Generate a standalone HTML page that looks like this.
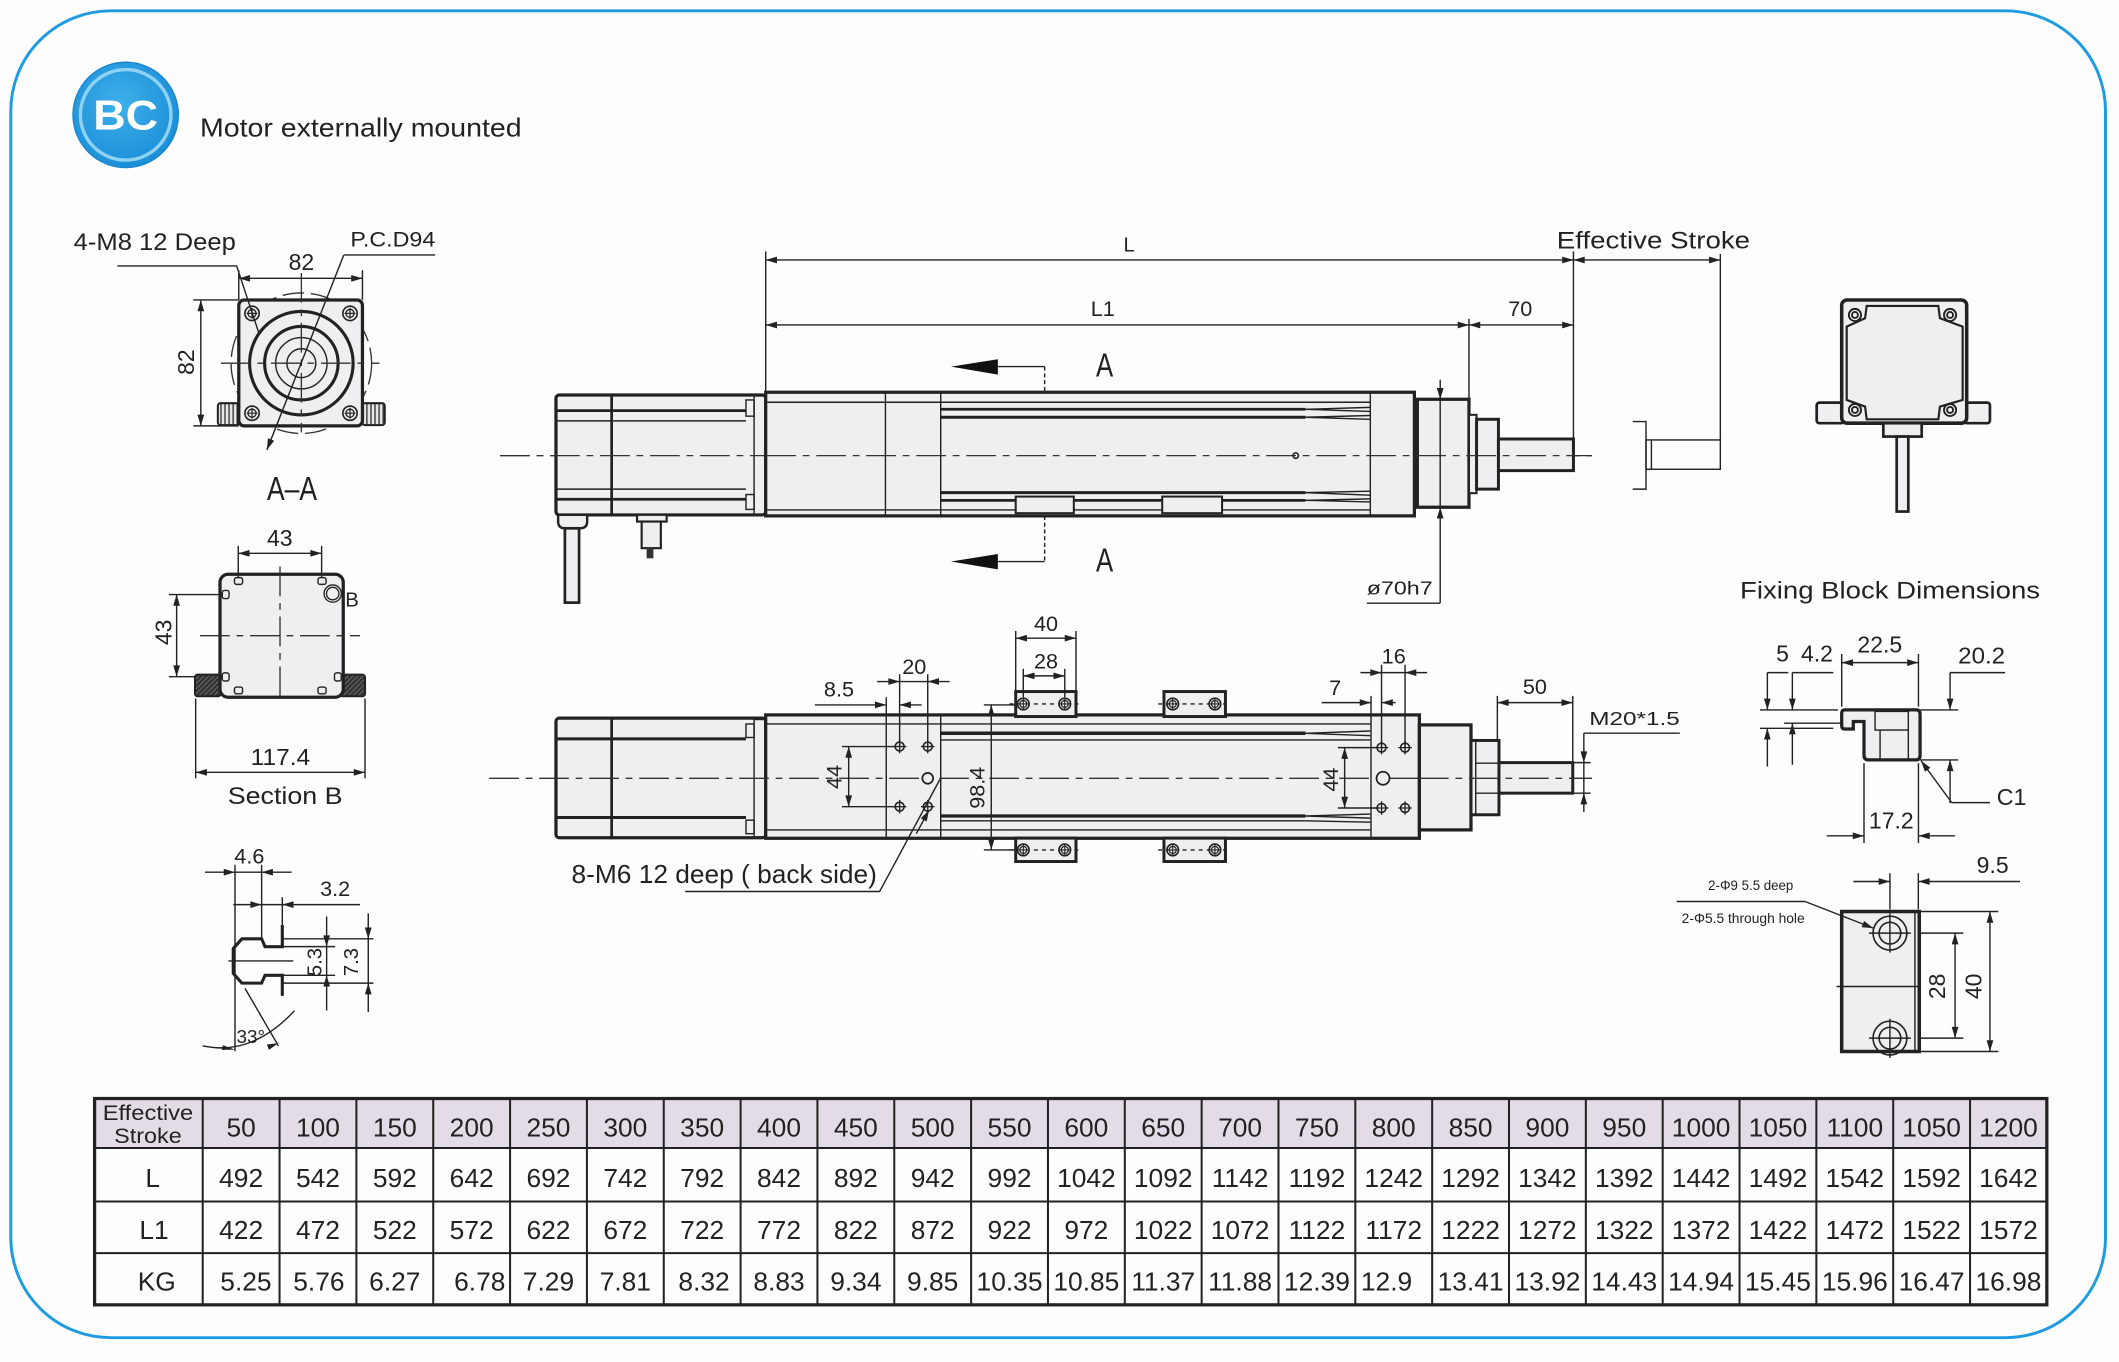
<!DOCTYPE html>
<html><head><meta charset="utf-8">
<style>
html,body{margin:0;padding:0;background:#fdfdfd;width:2119px;height:1362px;overflow:hidden}
svg{display:block}
text{font-family:"Liberation Sans",Arial,sans-serif;fill:#222}
.k{stroke:#222;stroke-width:2.3;fill:none}
.t{stroke:#222;stroke-width:1.05;fill:none}
.c{stroke:#333;stroke-width:1;fill:none;stroke-dasharray:22 5 5 5}
.f{fill:#efeff1}
</style></head><body>
<svg width="2119" height="1362" viewBox="0 0 1568 1008" preserveAspectRatio="none" xmlns="http://www.w3.org/2000/svg">
<defs>
<marker id="ae" viewBox="0 0 10 6" refX="10" refY="3" markerWidth="9" markerHeight="5" markerUnits="userSpaceOnUse" orient="auto"><path d="M0,0L10,3L0,6z" fill="#222"/></marker>
<marker id="as" viewBox="0 0 10 6" refX="10" refY="3" markerWidth="9" markerHeight="5" markerUnits="userSpaceOnUse" orient="auto-start-reverse"><path d="M0,0L10,3L0,6z" fill="#222"/></marker>
<pattern id="hv" width="3" height="4" patternUnits="userSpaceOnUse"><rect width="3" height="4" fill="#e6e6e8"/><line x1="1.5" y1="0" x2="1.5" y2="4" stroke="#333" stroke-width="1"/></pattern>
<pattern id="hd" width="2.6" height="2.6" patternUnits="userSpaceOnUse" patternTransform="rotate(45)"><rect width="2.6" height="2.6" fill="#333"/><line x1="0" y1="0" x2="0" y2="2.6" stroke="#9a9a9a" stroke-width="0.8"/></pattern>
<radialGradient id="bg" cx="0.45" cy="0.4" r="0.6"><stop offset="0" stop-color="#3fb0ea"/><stop offset="1" stop-color="#1b8fd8"/></radialGradient>
<g id="hp"><circle r="5.3" fill="#efeff1" stroke="#222" stroke-width="1.2"/><circle r="3" fill="none" stroke="#222" stroke-width="1"/><path d="M-4,0H4M0,-4V4" stroke="#222" stroke-width="0.9"/></g>
<g id="hs"><circle r="3.3" fill="none" stroke="#222" stroke-width="1.2"/><path d="M-5,0H5M0,-5V5" stroke="#222" stroke-width="1"/></g>
<g id="hb"><circle r="4.3" fill="#efeff1" stroke="#222" stroke-width="1.2"/><circle r="2.6" fill="none" stroke="#222" stroke-width="0.9"/><path d="M-4.3,0H4.3M0,-4.3V4.3" stroke="#222" stroke-width="0.8"/></g>
</defs>

<rect width="1568" height="1008" fill="#fdfdfd"/>
<rect x="8" y="8" width="1550" height="982" rx="74" fill="none" stroke="#1f9be0" stroke-width="2.2"/>

<!-- badge -->
<circle cx="93" cy="85" r="39" fill="url(#bg)" stroke="#1a86cc" stroke-width="1"/>
<circle cx="93" cy="85" r="33.5" fill="none" stroke="#8fd2f3" stroke-width="2.5"/>
<text x="93" y="96" text-anchor="middle" font-size="31" font-weight="bold" style="fill:#fff" textLength="48" lengthAdjust="spacingAndGlyphs">BC</text>
<text x="148" y="101" font-size="19" textLength="238" lengthAdjust="spacingAndGlyphs">Motor externally mounted</text>

<!-- ============ A-A view ============ -->
<circle cx="223" cy="268.8" r="52" fill="none" stroke="#333" stroke-width="1" stroke-dasharray="16 5"/>
<rect x="161.2" y="298.4" width="15.5" height="16.2" rx="2" fill="url(#hv)" stroke="#222" stroke-width="1.5"/>
<rect x="268.2" y="298.4" width="16.5" height="16.2" rx="2" fill="url(#hv)" stroke="#222" stroke-width="1.5"/>
<rect x="176.7" y="222" width="91.5" height="93.2" rx="4" fill="#efeff1" stroke="#222" stroke-width="2.4"/>
<circle cx="223" cy="268.8" r="38.3" class="k" stroke-width="2"/>
<circle cx="223" cy="268.8" r="27.2" class="k" stroke-width="2"/>
<circle cx="223" cy="268.8" r="19" class="t"/>
<circle cx="223" cy="268.8" r="10.7" class="t"/>
<line x1="163.5" y1="268.8" x2="280.8" y2="268.8" class="c"/>
<line x1="223" y1="202" x2="223" y2="320" class="c"/>
<use href="#hp" x="186.5" y="231.9"/><use href="#hp" x="259" y="231.9"/>
<use href="#hp" x="186.5" y="305.8"/><use href="#hp" x="259" y="305.8"/>
<line x1="176.7" y1="200" x2="176.7" y2="222" class="t"/>
<line x1="268.2" y1="200" x2="268.2" y2="222" class="t"/>
<line x1="176.7" y1="206" x2="268.2" y2="206" class="t" marker-start="url(#as)" marker-end="url(#ae)"/>
<text x="223" y="200" font-size="17" text-anchor="middle">82</text>
<line x1="143" y1="222" x2="176.7" y2="222" class="t"/>
<line x1="143" y1="315.2" x2="176.7" y2="315.2" class="t"/>
<line x1="148.6" y1="222" x2="148.6" y2="315.2" class="t" marker-start="url(#as)" marker-end="url(#ae)"/>
<text transform="translate(143.5,268) rotate(-90)" font-size="17" text-anchor="middle">82</text>
<text x="54.5" y="185" font-size="17.5" textLength="120" lengthAdjust="spacingAndGlyphs">4-M8 12 Deep</text>
<polyline points="86.9,196.8 175.1,196.8 191.6,246.6" class="t"/>
<text x="259.3" y="182.5" font-size="16" textLength="62.8" lengthAdjust="spacingAndGlyphs">P.C.D94</text>
<line x1="254.4" y1="188.7" x2="322" y2="188.7" class="t"/>
<line x1="254.4" y1="188.7" x2="197.5" y2="333" class="t" marker-end="url(#ae)"/>
<text x="197.6" y="370" font-size="25" textLength="37" lengthAdjust="spacingAndGlyphs">A–A</text>

<!-- ============ Section B ============ -->
<rect x="144.3" y="499.3" width="19" height="16" rx="2" fill="url(#hd)" stroke="#222" stroke-width="1.5"/>
<rect x="251.6" y="499.3" width="18.5" height="16" rx="2" fill="url(#hd)" stroke="#222" stroke-width="1.5"/>
<rect x="162.8" y="425" width="91.2" height="91" rx="6" fill="#efeff1" stroke="#222" stroke-width="2.4"/>
<g class="t" stroke-width="1.1">
<rect x="173.5" y="427.5" width="6" height="5" rx="1.5"/><rect x="235.3" y="427.5" width="6" height="5" rx="1.5"/>
<rect x="173.5" y="508.5" width="6" height="5" rx="1.5"/><rect x="235.3" y="508.5" width="6" height="5" rx="1.5"/>
<rect x="164.5" y="437" width="5" height="6" rx="1.5"/><rect x="164.5" y="498" width="5" height="6" rx="1.5"/>
<rect x="247.5" y="498" width="5" height="6" rx="1.5"/>
</g>
<line x1="148" y1="470.5" x2="266.4" y2="470.5" class="c"/>
<line x1="207.2" y1="419.3" x2="207.2" y2="516.7" class="c"/>
<line x1="176.3" y1="404" x2="176.3" y2="427" class="t"/>
<line x1="238" y1="404" x2="238" y2="427" class="t"/>
<line x1="176.3" y1="409.5" x2="238" y2="409.5" class="t" marker-start="url(#as)" marker-end="url(#ae)"/>
<text x="207" y="404" font-size="17" text-anchor="middle">43</text>
<line x1="125" y1="440" x2="162" y2="440" class="t"/>
<line x1="125" y1="500.8" x2="145" y2="500.8" class="t"/>
<line x1="130.7" y1="440" x2="130.7" y2="500.8" class="t" marker-start="url(#as)" marker-end="url(#ae)"/>
<text transform="translate(127,468) rotate(-90)" font-size="17" text-anchor="middle">43</text>
<circle cx="246.2" cy="439.3" r="6.4" fill="none" stroke="#222" stroke-width="1"/>
<circle cx="246.2" cy="439.3" r="4.6" fill="none" stroke="#222" stroke-width="1"/>
<text x="255.5" y="449" font-size="15">B</text>
<line x1="144.8" y1="517" x2="144.8" y2="576" class="t"/>
<line x1="270.1" y1="517" x2="270.1" y2="576" class="t"/>
<line x1="144.8" y1="571.6" x2="270.1" y2="571.6" class="t" marker-start="url(#as)" marker-end="url(#ae)"/>
<text x="207.5" y="566" font-size="17" text-anchor="middle" textLength="44" lengthAdjust="spacingAndGlyphs">117.4</text>
<text x="211" y="595" font-size="18" text-anchor="middle" textLength="85" lengthAdjust="spacingAndGlyphs">Section B</text>

<!-- ============ slot profile ============ -->
<path d="M208.9,684.6 L208.9,700.6 L196.1,700.6 L193.6,694.8 L179,694.8 L172.6,702 L172.6,720.4 L179,727.6 L193.6,727.6 L196.1,721.8 L208.9,721.8 L208.9,737" class="k" stroke-width="2.2"/>
<line x1="169" y1="711.2" x2="217" y2="711.2" class="t"/>
<line x1="173.9" y1="640" x2="173.9" y2="778" class="t"/>
<line x1="193.6" y1="640" x2="193.6" y2="694.8" class="t"/>
<line x1="208.9" y1="664" x2="208.9" y2="684.6" class="t"/>
<line x1="151.7" y1="645.5" x2="173.9" y2="645.5" class="t" marker-end="url(#ae)"/>
<line x1="215.8" y1="645.5" x2="193.6" y2="645.5" class="t" marker-end="url(#ae)"/>
<line x1="173.9" y1="645.5" x2="193.6" y2="645.5" class="t"/>
<text x="184.5" y="639" font-size="16" text-anchor="middle">4.6</text>
<line x1="172.6" y1="669.5" x2="193.6" y2="669.5" class="t" marker-end="url(#ae)"/>
<line x1="266.4" y1="669.5" x2="208.9" y2="669.5" class="t" marker-end="url(#ae)"/>
<line x1="193.6" y1="669.5" x2="208.9" y2="669.5" class="t"/>
<text x="248" y="663" font-size="16" text-anchor="middle">3.2</text>
<line x1="208.9" y1="700.6" x2="248" y2="700.6" class="t"/>
<line x1="208.9" y1="721.8" x2="248" y2="721.8" class="t"/>
<line x1="241.7" y1="678.3" x2="241.7" y2="700.6" class="t" marker-end="url(#ae)"/>
<line x1="241.7" y1="747.9" x2="241.7" y2="721.8" class="t" marker-end="url(#ae)"/>
<line x1="241.7" y1="700.6" x2="241.7" y2="721.8" class="t"/>
<text transform="translate(238,712) rotate(-90)" font-size="15" text-anchor="middle">5.3</text>
<line x1="208.9" y1="694.8" x2="276.3" y2="694.8" class="t"/>
<line x1="208.9" y1="727.6" x2="276.3" y2="727.6" class="t"/>
<line x1="272.5" y1="676" x2="272.5" y2="694.8" class="t" marker-end="url(#ae)"/>
<line x1="272.5" y1="749" x2="272.5" y2="727.6" class="t" marker-end="url(#ae)"/>
<line x1="272.5" y1="694.8" x2="272.5" y2="727.6" class="t"/>
<text transform="translate(265,712) rotate(-90)" font-size="15" text-anchor="middle">7.3</text>
<line x1="181.3" y1="731.5" x2="206" y2="774" class="t"/>
<path d="M150,774 Q186,782 218,748" class="t"/>
<path d="M164,777 L173.9,776.8 L165,773.6z" fill="#222"/>
<path d="M206,772 L199,777 L197.5,773z" fill="#222"/>
<text x="175" y="772" font-size="14">33°</text>

<!-- ============ main top view ============ -->
<line x1="370" y1="337.2" x2="1178" y2="337.2" class="c"/>
<rect x="411.4" y="292.3" width="155.2" height="88.8" rx="2.5" fill="#efeff1" stroke="#222" stroke-width="2.4"/>
<line x1="452.6" y1="292.3" x2="452.6" y2="381" stroke="#222" stroke-width="2"/>
<line x1="412" y1="303.9" x2="552" y2="303.9" stroke="#222" stroke-width="2"/>
<line x1="412" y1="311.5" x2="552" y2="311.5" class="t"/>
<line x1="412" y1="362" x2="552" y2="362" class="t"/>
<line x1="412" y1="369.5" x2="552" y2="369.5" stroke="#222" stroke-width="2"/>
<rect x="552" y="296" width="6" height="12" class="t"/>
<rect x="552" y="366" width="6" height="11" class="t"/>
<rect x="558" y="293" width="8.6" height="87.5" class="t"/>
<line x1="370" y1="337.2" x2="1178" y2="337.2" class="c"/>
<path d="M413,381 L434.5,381 L434.5,386 Q434.5,391 429,391 L418,391 Q413,391 413,386z" fill="#efeff1" stroke="#222" stroke-width="1.8"/>
<rect x="418" y="391" width="10.5" height="55" fill="#efeff1" stroke="#222" stroke-width="2"/>
<rect x="471.4" y="381" width="21.9" height="5" fill="#efeff1" stroke="#222" stroke-width="1.6"/>
<rect x="474.8" y="386" width="14.2" height="19.7" fill="#efeff1" stroke="#222" stroke-width="1.6"/>
<rect x="478.5" y="405.7" width="5" height="7.5" fill="#333"/>
<rect x="566.6" y="290.3" width="480" height="91.5" fill="#efeff1" stroke="#222" stroke-width="2.4"/>
<line x1="567" y1="297.7" x2="1014" y2="297.7" class="t"/>
<line x1="567" y1="377.4" x2="1014" y2="377.4" class="t"/>
<line x1="655.2" y1="290.3" x2="655.2" y2="381.8" class="t"/>
<line x1="696.1" y1="290.3" x2="696.1" y2="381.8" class="t"/>
<line x1="1014" y1="290.3" x2="1014" y2="381.8" class="t"/>
<line x1="696" y1="302.9" x2="966" y2="302.9" stroke="#222" stroke-width="2"/>
<line x1="696" y1="308.8" x2="966" y2="308.8" stroke="#222" stroke-width="2.2"/>
<line x1="696" y1="364.6" x2="966" y2="364.6" stroke="#222" stroke-width="2.2"/>
<line x1="696" y1="370.3" x2="966" y2="370.3" stroke="#222" stroke-width="2"/>
<g class="t" stroke-width="0.8">
<path d="M966,302.9 L1014,301.5 M966,302.9 L1014,304.5 M966,308.8 L1014,307.5 M966,308.8 L1014,310.3"/>
<path d="M966,364.6 L1014,363.5 M966,364.6 L1014,366.5 M966,370.3 L1014,369.2 M966,370.3 L1014,371.5"/>
</g>
<rect x="751.6" y="367.5" width="43" height="12.3" fill="#efeff1" stroke="#222" stroke-width="1.5"/>
<rect x="860" y="367.5" width="44.3" height="12.3" fill="#efeff1" stroke="#222" stroke-width="1.5"/>
<line x1="567" y1="337.2" x2="1046" y2="337.2" class="c"/>
<circle cx="958.8" cy="337.2" r="2" fill="none" stroke="#222" stroke-width="1.2"/>
<rect x="1048.8" y="295.5" width="38.2" height="79.9" fill="#efeff1" stroke="#222" stroke-width="2.4"/>
<rect x="1087" y="307" width="5.6" height="58" fill="#efeff1" stroke="#222" stroke-width="1.5"/>
<rect x="1092.6" y="310.3" width="16.2" height="51.7" fill="#efeff1" stroke="#222" stroke-width="2.2"/>
<rect x="1108.8" y="324.9" width="55.5" height="23.4" fill="#efeff1" stroke="#222" stroke-width="2.2"/>
<line x1="1048" y1="337.2" x2="1178" y2="337.2" class="c"/>
<path d="M1208.2,312 L1218,312 L1218,362 L1208.2,362" class="t" stroke-width="1.3"/>
<rect x="1218" y="325.6" width="55" height="21.7" class="t" stroke-width="1.5"/>
<line x1="1222" y1="325.6" x2="1222" y2="347.3" class="t"/>
<line x1="566.6" y1="186" x2="566.6" y2="290" class="t"/>
<line x1="1164.3" y1="186" x2="1164.3" y2="324.9" class="t"/>
<line x1="1273" y1="188" x2="1273" y2="325.6" class="t"/>
<line x1="1087" y1="236" x2="1087" y2="295.5" class="t"/>
<line x1="566.6" y1="192.4" x2="1164.3" y2="192.4" class="t" marker-start="url(#as)" marker-end="url(#ae)"/>
<line x1="1164.3" y1="192.4" x2="1273" y2="192.4" class="t" marker-start="url(#as)" marker-end="url(#ae)"/>
<text x="835.5" y="186" font-size="15" text-anchor="middle">L</text>
<text x="1152" y="184" font-size="17.5" textLength="143" lengthAdjust="spacingAndGlyphs">Effective Stroke</text>
<line x1="566.6" y1="240.5" x2="1087" y2="240.5" class="t" marker-start="url(#as)" marker-end="url(#ae)"/>
<line x1="1087" y1="240.5" x2="1164.3" y2="240.5" class="t" marker-start="url(#as)" marker-end="url(#ae)"/>
<text x="816" y="234" font-size="16" text-anchor="middle">L1</text>
<text x="1125" y="234" font-size="16" text-anchor="middle">70</text>
<line x1="1065.7" y1="281" x2="1065.7" y2="295.5" class="t" marker-end="url(#ae)"/>
<line x1="1065.7" y1="295.5" x2="1065.7" y2="375.4" class="t"/>
<line x1="1065.7" y1="446.4" x2="1065.7" y2="375.4" class="t" marker-end="url(#ae)"/>
<line x1="1011.4" y1="446.4" x2="1065.7" y2="446.4" class="t"/>
<text x="1011.4" y="440" font-size="14" textLength="48.7" lengthAdjust="spacingAndGlyphs">ø70h7</text>
<path d="M703.7,271.3 L738.4,265.9 L738.4,277.3z" fill="#111"/>
<polyline points="738.4,271.3 773,271.3" class="t"/>
<line x1="773" y1="271.3" x2="773" y2="290.3" class="t" stroke-dasharray="3 2"/>
<text x="811" y="278.7" font-size="25" textLength="12.7" lengthAdjust="spacingAndGlyphs">A</text>
<path d="M703.7,415.6 L738.4,410 L738.4,421.4z" fill="#111"/>
<polyline points="738.4,415.6 773,415.6" class="t"/>
<line x1="773" y1="381.8" x2="773" y2="415.6" class="t" stroke-dasharray="3 2"/>
<text x="811" y="423" font-size="25" textLength="12.7" lengthAdjust="spacingAndGlyphs">A</text>

<!-- ============ right end view ============ -->
<rect x="1344.3" y="298" width="20" height="15.2" rx="2" fill="#efeff1" stroke="#222" stroke-width="2"/>
<rect x="1453.5" y="298" width="19" height="15.2" rx="2" fill="#efeff1" stroke="#222" stroke-width="2"/>
<rect x="1362.8" y="222" width="92.5" height="91.2" rx="4" fill="#efeff1" stroke="#222" stroke-width="2.6"/>
<polygon points="1381.3,226.4 1434.3,226.4 1435.5,235.5 1452.3,241.7 1452.3,296 1435.5,300.9 1434.3,310.3 1381.3,310.3 1380.1,300.9 1366.5,296 1366.5,241.7 1380.1,235.5" fill="#efeff1" stroke="#222" stroke-width="1.6"/>
<g fill="none" stroke="#222" stroke-width="1.4">
<circle cx="1372.6" cy="233.1" r="4.5"/><circle cx="1443" cy="233.1" r="4.5"/><circle cx="1372.6" cy="303.4" r="4.5"/><circle cx="1443" cy="303.4" r="4.5"/>
<circle cx="1372.6" cy="233.1" r="2.2"/><circle cx="1443" cy="233.1" r="2.2"/><circle cx="1372.6" cy="303.4" r="2.2"/><circle cx="1443" cy="303.4" r="2.2"/>
</g>
<rect x="1393.6" y="313.2" width="28.4" height="9.9" fill="#efeff1" stroke="#222" stroke-width="2"/>
<rect x="1403.5" y="323.1" width="8.6" height="55.5" fill="#efeff1" stroke="#222" stroke-width="2"/>

<!-- ============ bottom view ============ -->
<rect x="411.4" y="531.5" width="155.2" height="88.5" rx="2.5" fill="#efeff1" stroke="#222" stroke-width="2.4"/>
<line x1="452.6" y1="531.5" x2="452.6" y2="620" stroke="#222" stroke-width="2"/>
<line x1="412" y1="546.8" x2="552" y2="546.8" stroke="#222" stroke-width="2.2"/>
<line x1="412" y1="605" x2="552" y2="605" stroke="#222" stroke-width="2.2"/>
<rect x="552" y="535.8" width="6" height="10" class="t"/>
<rect x="552" y="607" width="6" height="10" class="t"/>
<rect x="558" y="532.5" width="8.6" height="87" class="t"/>
<rect x="566.6" y="529.1" width="483.7" height="91.3" fill="#efeff1" stroke="#222" stroke-width="2.4"/>
<line x1="567" y1="535.8" x2="1014.5" y2="535.8" class="t"/>
<line x1="567" y1="614.2" x2="1014.5" y2="614.2" class="t"/>
<line x1="655.8" y1="529.1" x2="655.8" y2="620.4" class="t"/>
<line x1="696.1" y1="529.1" x2="696.1" y2="620.4" class="t"/>
<line x1="1014.5" y1="529.1" x2="1014.5" y2="620.4" class="t"/>
<line x1="696" y1="542.7" x2="966" y2="542.7" stroke="#222" stroke-width="2.6"/>
<line x1="696" y1="547.6" x2="966" y2="547.6" class="t"/>
<line x1="696" y1="603.9" x2="966" y2="603.9" stroke="#222" stroke-width="2.4"/>
<line x1="696" y1="607.5" x2="966" y2="607.5" class="t"/>
<g class="t" stroke-width="0.8">
<path d="M966,542.7 L1014,541 M966,542.7 L1014,544.5 M966,547.6 L1014,547.6"/>
<path d="M966,603.9 L1014,602.5 M966,603.9 L1014,605.5 M966,607.5 L1014,608.5"/>
</g>
<line x1="362" y1="576" x2="1178" y2="576" class="c"/>
<use href="#hs" x="665.7" y="552.5"/><use href="#hs" x="686.5" y="552.5"/>
<use href="#hs" x="665.7" y="597"/><use href="#hs" x="686.5" y="597"/>
<circle cx="686.5" cy="576" r="4" fill="#efeff1" stroke="#222" stroke-width="1.3"/>
<use href="#hs" x="1022.3" y="553.3"/><use href="#hs" x="1039.7" y="553.3"/>
<use href="#hs" x="1022.3" y="598"/><use href="#hs" x="1039.7" y="598"/>
<circle cx="1023.4" cy="576" r="4.8" fill="#efeff1" stroke="#222" stroke-width="1.3"/>
<rect x="1050.3" y="536.5" width="38.2" height="77.7" fill="#efeff1" stroke="#222" stroke-width="2.4"/>
<rect x="1088.5" y="548" width="20.7" height="55" fill="#efeff1" stroke="#222" stroke-width="2.2"/>
<line x1="1092" y1="548" x2="1092" y2="603" class="t"/>
<line x1="1092" y1="564.8" x2="1109" y2="564.8" class="t"/>
<line x1="1092" y1="587" x2="1109" y2="587" class="t"/>
<rect x="1109.2" y="564.4" width="54.6" height="22.6" fill="#efeff1" stroke="#222" stroke-width="2.2"/>
<line x1="1050" y1="576" x2="1178" y2="576" class="c"/>
<line x1="1163.8" y1="564.4" x2="1177" y2="564.4" class="t"/>
<line x1="1163.8" y1="587" x2="1177" y2="587" class="t"/>
<g fill="#efeff1" stroke="#222" stroke-width="2.2">
<rect x="751.6" y="511.8" width="44.6" height="18.5"/>
<rect x="861.3" y="511.8" width="45.5" height="18.5"/>
<rect x="751.6" y="620.3" width="44.6" height="17.3"/>
<rect x="861.3" y="620.3" width="45.5" height="17.3"/>
</g>
<line x1="747" y1="521" x2="800" y2="521" class="t" stroke-dasharray="3 3"/>
<line x1="857" y1="521" x2="911" y2="521" class="t" stroke-dasharray="3 3"/>
<line x1="747" y1="629" x2="800" y2="629" class="t" stroke-dasharray="3 3"/>
<line x1="857" y1="629" x2="911" y2="629" class="t" stroke-dasharray="3 3"/>
<use href="#hb" x="757.2" y="521"/><use href="#hb" x="787.9" y="521"/>
<use href="#hb" x="867.8" y="521"/><use href="#hb" x="899" y="521"/>
<use href="#hb" x="757.2" y="629"/><use href="#hb" x="787.9" y="629"/>
<use href="#hb" x="867.8" y="629"/><use href="#hb" x="899" y="629"/>
<line x1="655.8" y1="516" x2="655.8" y2="529" class="t"/>
<line x1="665.7" y1="499" x2="665.7" y2="552.5" class="t"/>
<line x1="686.5" y1="499" x2="686.5" y2="552.5" class="t"/>
<line x1="603" y1="521.7" x2="655.8" y2="521.7" class="t" marker-end="url(#ae)"/>
<line x1="682" y1="521.7" x2="665.7" y2="521.7" class="t" marker-end="url(#ae)"/>
<text x="620.8" y="515.5" font-size="16" text-anchor="middle">8.5</text>
<line x1="649" y1="504.4" x2="665.7" y2="504.4" class="t" marker-end="url(#ae)"/>
<line x1="702.7" y1="504.4" x2="686.5" y2="504.4" class="t" marker-end="url(#ae)"/>
<line x1="665.7" y1="504.4" x2="686.5" y2="504.4" class="t"/>
<text x="676.5" y="498.8" font-size="16" text-anchor="middle">20</text>
<line x1="623" y1="552.5" x2="662" y2="552.5" class="t"/>
<line x1="623" y1="597" x2="662" y2="597" class="t"/>
<line x1="628" y1="552.5" x2="628" y2="597" class="t" marker-start="url(#as)" marker-end="url(#ae)"/>
<text transform="translate(622.8,575) rotate(-90)" font-size="16" text-anchor="middle">44</text>
<line x1="728" y1="521.7" x2="751" y2="521.7" class="t"/>
<line x1="728" y1="629" x2="751" y2="629" class="t"/>
<line x1="733.5" y1="521.7" x2="733.5" y2="629" class="t" marker-start="url(#as)" marker-end="url(#ae)"/>
<text transform="translate(728.5,583) rotate(-90)" font-size="16" text-anchor="middle">98.4</text>
<line x1="751.6" y1="467" x2="751.6" y2="511.8" class="t"/>
<line x1="796.2" y1="467" x2="796.2" y2="511.8" class="t"/>
<line x1="751.6" y1="472.3" x2="796.2" y2="472.3" class="t" marker-start="url(#as)" marker-end="url(#ae)"/>
<text x="774" y="467" font-size="16" text-anchor="middle">40</text>
<line x1="757.2" y1="495" x2="757.2" y2="516" class="t"/>
<line x1="787.9" y1="495" x2="787.9" y2="516" class="t"/>
<line x1="757.2" y1="500.2" x2="787.9" y2="500.2" class="t" marker-start="url(#as)" marker-end="url(#ae)"/>
<text x="774" y="494.6" font-size="16" text-anchor="middle">28</text>
<line x1="1014.5" y1="515" x2="1014.5" y2="529" class="t"/>
<line x1="1022.3" y1="492" x2="1022.3" y2="553.3" class="t"/>
<line x1="1039.7" y1="492" x2="1039.7" y2="553.3" class="t"/>
<line x1="978" y1="520" x2="1014.5" y2="520" class="t" marker-end="url(#ae)"/>
<line x1="1032.7" y1="520" x2="1022.3" y2="520" class="t" marker-end="url(#ae)"/>
<text x="988" y="514.3" font-size="16" text-anchor="middle">7</text>
<line x1="1006.7" y1="497.8" x2="1022.3" y2="497.8" class="t" marker-end="url(#ae)"/>
<line x1="1056" y1="497.8" x2="1039.7" y2="497.8" class="t" marker-end="url(#ae)"/>
<line x1="1022.3" y1="497.8" x2="1039.7" y2="497.8" class="t"/>
<text x="1031.3" y="491" font-size="16" text-anchor="middle">16</text>
<line x1="990" y1="553.3" x2="1020" y2="553.3" class="t"/>
<line x1="990" y1="598" x2="1020" y2="598" class="t"/>
<line x1="995" y1="553.3" x2="995" y2="598" class="t" marker-start="url(#as)" marker-end="url(#ae)"/>
<text transform="translate(989.9,577) rotate(-90)" font-size="16" text-anchor="middle">44</text>
<line x1="1108" y1="515" x2="1108" y2="548" class="t"/>
<line x1="1163.8" y1="515" x2="1163.8" y2="564.4" class="t"/>
<line x1="1108" y1="520" x2="1163.8" y2="520" class="t" marker-start="url(#as)" marker-end="url(#ae)"/>
<text x="1135.8" y="513.5" font-size="16" text-anchor="middle">50</text>
<text x="1176" y="536.5" font-size="14" textLength="67" lengthAdjust="spacingAndGlyphs">M20*1.5</text>
<line x1="1172" y1="542.6" x2="1243" y2="542.6" class="t"/>
<line x1="1172" y1="542.6" x2="1172" y2="564.4" class="t" marker-end="url(#ae)"/>
<line x1="1172" y1="601" x2="1172" y2="587" class="t" marker-end="url(#ae)"/>
<line x1="1172" y1="564.4" x2="1172" y2="587" class="t"/>
<text x="422.9" y="653.6" font-size="19" textLength="226" lengthAdjust="spacingAndGlyphs">8-M6 12 deep ( back side)</text>
<polyline points="507,659.8 650.9,659.8 695.4,577" class="t"/>
<line x1="678" y1="617" x2="687.5" y2="599.5" class="t" marker-end="url(#ae)"/>

<!-- ============ Fixing block ============ -->
<text x="1287.6" y="443" font-size="18" textLength="222" lengthAdjust="spacingAndGlyphs">Fixing Block Dimensions</text>
<path d="M1365,525.4 L1418,525.4 Q1420.8,525.4 1420.8,528.5 L1420.8,559 Q1420.8,562.4 1417.5,562.4 L1383,562.4 Q1379.3,562.4 1379.3,559 L1379.3,534 L1371.4,534 L1371.4,539.5 L1365,539.5 Q1362.8,539.5 1362.8,537 L1362.8,528 Q1362.8,525.4 1365,525.4 Z" fill="#efeff1" stroke="#222" stroke-width="2.4"/>
<rect x="1387.5" y="526.5" width="24.6" height="13.8" class="t"/>
<line x1="1391.2" y1="540.3" x2="1391.2" y2="561.5" class="t"/>
<line x1="1412.1" y1="540.3" x2="1412.1" y2="561.5" class="t"/>
<line x1="1362.8" y1="484" x2="1362.8" y2="523" class="t"/>
<line x1="1419.6" y1="484" x2="1419.6" y2="523" class="t"/>
<line x1="1362.8" y1="490.4" x2="1419.6" y2="490.4" class="t" marker-start="url(#as)" marker-end="url(#ae)"/>
<text x="1391" y="483" font-size="17" text-anchor="middle">22.5</text>
<text x="1319" y="489.5" font-size="17" text-anchor="middle">5</text>
<text x="1344.5" y="489.5" font-size="17" text-anchor="middle">4.2</text>
<line x1="1307.8" y1="497.8" x2="1323.3" y2="497.8" class="t"/>
<line x1="1326.3" y1="497.8" x2="1356.6" y2="497.8" class="t"/>
<line x1="1307.8" y1="497.8" x2="1307.8" y2="525.4" class="t" marker-end="url(#ae)"/>
<line x1="1326.3" y1="497.8" x2="1326.3" y2="525.4" class="t" marker-end="url(#ae)"/>
<line x1="1302.3" y1="525.4" x2="1360" y2="525.4" class="t"/>
<line x1="1320.1" y1="535.2" x2="1362" y2="535.2" class="t"/>
<line x1="1302.3" y1="539" x2="1356.6" y2="539" class="t"/>
<line x1="1307.8" y1="567.3" x2="1307.8" y2="539" class="t" marker-end="url(#ae)"/>
<line x1="1326.3" y1="566" x2="1326.3" y2="535.2" class="t" marker-end="url(#ae)"/>
<text x="1449" y="490.9" font-size="17" textLength="34.7" lengthAdjust="spacingAndGlyphs">20.2</text>
<line x1="1443" y1="497.8" x2="1483.7" y2="497.8" class="t"/>
<line x1="1443" y1="497.8" x2="1443" y2="525.4" class="t" marker-end="url(#ae)"/>
<line x1="1421" y1="525.4" x2="1449" y2="525.4" class="t"/>
<line x1="1421" y1="562.4" x2="1449" y2="562.4" class="t"/>
<line x1="1443" y1="594.4" x2="1443" y2="562.4" class="t" marker-end="url(#ae)"/>
<polyline points="1444.2,594 1472.5,594" class="t"/>
<line x1="1444.2" y1="594" x2="1421.5" y2="563" class="t" marker-end="url(#ae)"/>
<text x="1477.5" y="595.7" font-size="17" textLength="22" lengthAdjust="spacingAndGlyphs">C1</text>
<line x1="1379.3" y1="564.8" x2="1379.3" y2="624" class="t"/>
<line x1="1419.6" y1="564.8" x2="1419.6" y2="624" class="t"/>
<line x1="1351.7" y1="618.6" x2="1379.3" y2="618.6" class="t" marker-end="url(#ae)"/>
<line x1="1446.6" y1="618.6" x2="1419.6" y2="618.6" class="t" marker-end="url(#ae)"/>
<text x="1399.5" y="613" font-size="17" text-anchor="middle">17.2</text>
<text x="1474.5" y="646.2" font-size="17" text-anchor="middle">9.5</text>
<line x1="1398.5" y1="646.2" x2="1398.5" y2="673" class="t"/>
<line x1="1419.5" y1="646.2" x2="1419.5" y2="673" class="t"/>
<line x1="1371.4" y1="652.4" x2="1398.5" y2="652.4" class="t" marker-end="url(#ae)"/>
<line x1="1494.7" y1="652.4" x2="1419.5" y2="652.4" class="t" marker-end="url(#ae)"/>
<rect x="1362.8" y="674.6" width="57.4" height="103.6" fill="#efeff1" stroke="#222" stroke-width="2.6"/>
<line x1="1417" y1="675" x2="1417" y2="778" class="t"/>
<line x1="1359" y1="730.1" x2="1420" y2="730.1" class="t"/>
<circle cx="1398.5" cy="690.6" r="12.5" fill="none" stroke="#222" stroke-width="1.2"/>
<circle cx="1398.5" cy="690.6" r="8" fill="none" stroke="#222" stroke-width="1.2"/>
<circle cx="1398.5" cy="768.3" r="12.5" fill="none" stroke="#222" stroke-width="1.2"/>
<circle cx="1398.5" cy="768.3" r="8" fill="none" stroke="#222" stroke-width="1.2"/>
<path d="M1383,690.6H1414M1398.5,676V705M1383,768.3H1414M1398.5,754V783" class="t"/>
<line x1="1420" y1="690.6" x2="1452.8" y2="690.6" class="t"/>
<line x1="1420" y1="768.3" x2="1452.8" y2="768.3" class="t"/>
<line x1="1446.7" y1="690.6" x2="1446.7" y2="768.3" class="t" marker-start="url(#as)" marker-end="url(#ae)"/>
<text transform="translate(1439.3,730) rotate(-90)" font-size="17" text-anchor="middle">28</text>
<line x1="1420" y1="674.6" x2="1478.7" y2="674.6" class="t"/>
<line x1="1420" y1="778.2" x2="1478.7" y2="778.2" class="t"/>
<line x1="1472.5" y1="674.6" x2="1472.5" y2="778.2" class="t" marker-start="url(#as)" marker-end="url(#ae)"/>
<text transform="translate(1466.4,730) rotate(-90)" font-size="17" text-anchor="middle">40</text>
<text x="1264" y="658.6" font-size="10" textLength="63" lengthAdjust="spacingAndGlyphs">2-Φ9 5.5 deep</text>
<text x="1244.4" y="683" font-size="10" textLength="91" lengthAdjust="spacingAndGlyphs">2-Φ5.5 through hole</text>
<polyline points="1240.7,667.2 1335.7,667.2" class="t"/>
<line x1="1335.7" y1="667.2" x2="1386.2" y2="686.9" class="t" marker-end="url(#ae)"/>

<!-- ============ TABLE ============ -->
<rect x="70" y="813" width="1444.6" height="36.6" fill="#e3dbe6"/>
<g stroke="#222" stroke-width="1.5">
<line x1="70" y1="849.6" x2="1514.6" y2="849.6"/>
<line x1="70" y1="889.2" x2="1514.6" y2="889.2"/>
<line x1="70" y1="927.4" x2="1514.6" y2="927.4"/>
<line x1="150" y1="813" x2="150" y2="965.7"/>
<line x1="206.86" y1="813" x2="206.86" y2="965.7"/>
<line x1="263.72" y1="813" x2="263.72" y2="965.7"/>
<line x1="320.58" y1="813" x2="320.58" y2="965.7"/>
<line x1="377.44" y1="813" x2="377.44" y2="965.7"/>
<line x1="434.3" y1="813" x2="434.3" y2="965.7"/>
<line x1="491.16" y1="813" x2="491.16" y2="965.7"/>
<line x1="548.02" y1="813" x2="548.02" y2="965.7"/>
<line x1="604.88" y1="813" x2="604.88" y2="965.7"/>
<line x1="661.74" y1="813" x2="661.74" y2="965.7"/>
<line x1="718.6" y1="813" x2="718.6" y2="965.7"/>
<line x1="775.46" y1="813" x2="775.46" y2="965.7"/>
<line x1="832.32" y1="813" x2="832.32" y2="965.7"/>
<line x1="889.18" y1="813" x2="889.18" y2="965.7"/>
<line x1="946.04" y1="813" x2="946.04" y2="965.7"/>
<line x1="1002.9" y1="813" x2="1002.9" y2="965.7"/>
<line x1="1059.76" y1="813" x2="1059.76" y2="965.7"/>
<line x1="1116.62" y1="813" x2="1116.62" y2="965.7"/>
<line x1="1173.48" y1="813" x2="1173.48" y2="965.7"/>
<line x1="1230.34" y1="813" x2="1230.34" y2="965.7"/>
<line x1="1287.2" y1="813" x2="1287.2" y2="965.7"/>
<line x1="1344.06" y1="813" x2="1344.06" y2="965.7"/>
<line x1="1400.92" y1="813" x2="1400.92" y2="965.7"/>
<line x1="1457.78" y1="813" x2="1457.78" y2="965.7"/>
</g>
<rect x="70" y="813" width="1444.6" height="152.7" fill="none" stroke="#222" stroke-width="2.4"/>
<text x="109.5" y="828.8" font-size="15.5" text-anchor="middle" textLength="67" lengthAdjust="spacingAndGlyphs">Effective</text>
<text x="109.5" y="846" font-size="15.5" text-anchor="middle" textLength="50" lengthAdjust="spacingAndGlyphs">Stroke</text>
<text x="113" y="878.6" font-size="19.5" text-anchor="middle">L</text>
<text x="114" y="917" font-size="19.5" text-anchor="middle">L1</text>
<text x="116" y="955" font-size="19.5" text-anchor="middle">KG</text>
<g font-size="19.5" text-anchor="middle">
<text x="178.43" y="841">50</text><text x="235.29" y="841">100</text><text x="292.15" y="841">150</text><text x="349.01" y="841">200</text><text x="405.87" y="841">250</text><text x="462.73" y="841">300</text><text x="519.59" y="841">350</text><text x="576.45" y="841">400</text><text x="633.31" y="841">450</text><text x="690.17" y="841">500</text><text x="747.03" y="841">550</text><text x="803.89" y="841">600</text><text x="860.75" y="841">650</text><text x="917.61" y="841">700</text><text x="974.47" y="841">750</text><text x="1031.33" y="841">800</text><text x="1088.19" y="841">850</text><text x="1145.05" y="841">900</text><text x="1201.91" y="841">950</text><text x="1258.77" y="841">1000</text><text x="1315.63" y="841">1050</text><text x="1372.49" y="841">1100</text><text x="1429.35" y="841">1050</text><text x="1486.21" y="841">1200</text>
<text x="178.43" y="878.6">492</text><text x="235.29" y="878.6">542</text><text x="292.15" y="878.6">592</text><text x="349.01" y="878.6">642</text><text x="405.87" y="878.6">692</text><text x="462.73" y="878.6">742</text><text x="519.59" y="878.6">792</text><text x="576.45" y="878.6">842</text><text x="633.31" y="878.6">892</text><text x="690.17" y="878.6">942</text><text x="747.03" y="878.6">992</text><text x="803.89" y="878.6">1042</text><text x="860.75" y="878.6">1092</text><text x="917.61" y="878.6">1142</text><text x="974.47" y="878.6">1192</text><text x="1031.33" y="878.6">1242</text><text x="1088.19" y="878.6">1292</text><text x="1145.05" y="878.6">1342</text><text x="1201.91" y="878.6">1392</text><text x="1258.77" y="878.6">1442</text><text x="1315.63" y="878.6">1492</text><text x="1372.49" y="878.6">1542</text><text x="1429.35" y="878.6">1592</text><text x="1486.21" y="878.6">1642</text>
<text x="178.43" y="917">422</text><text x="235.29" y="917">472</text><text x="292.15" y="917">522</text><text x="349.01" y="917">572</text><text x="405.87" y="917">622</text><text x="462.73" y="917">672</text><text x="519.59" y="917">722</text><text x="576.45" y="917">772</text><text x="633.31" y="917">822</text><text x="690.17" y="917">872</text><text x="747.03" y="917">922</text><text x="803.89" y="917">972</text><text x="860.75" y="917">1022</text><text x="917.61" y="917">1072</text><text x="974.47" y="917">1122</text><text x="1031.33" y="917">1172</text><text x="1088.19" y="917">1222</text><text x="1145.05" y="917">1272</text><text x="1201.91" y="917">1322</text><text x="1258.77" y="917">1372</text><text x="1315.63" y="917">1422</text><text x="1372.49" y="917">1472</text><text x="1429.35" y="917">1522</text><text x="1486.21" y="917">1572</text>
<text x="182" y="955">5.25</text><text x="236" y="955">5.76</text><text x="292.15" y="955">6.27</text><text x="355" y="955">6.78</text><text x="405.87" y="955">7.29</text><text x="462.73" y="955">7.81</text><text x="521" y="955">8.32</text><text x="576.45" y="955">8.83</text><text x="633.31" y="955">9.34</text><text x="690.17" y="955">9.85</text><text x="747.03" y="955">10.35</text><text x="803.89" y="955">10.85</text><text x="860.75" y="955">11.37</text><text x="917.61" y="955">11.88</text><text x="974.47" y="955">12.39</text><text x="1026" y="955">12.9</text><text x="1088.19" y="955">13.41</text><text x="1145.05" y="955">13.92</text><text x="1201.91" y="955">14.43</text><text x="1258.77" y="955">14.94</text><text x="1315.63" y="955">15.45</text><text x="1372.49" y="955">15.96</text><text x="1429.35" y="955">16.47</text><text x="1486.21" y="955">16.98</text>
</g>
</svg>
</body></html>
